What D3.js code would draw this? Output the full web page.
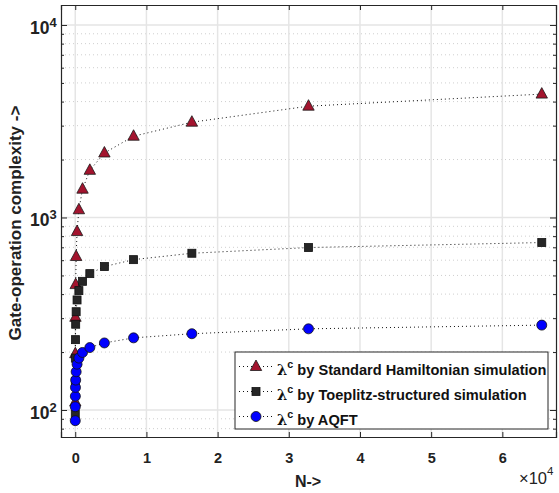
<!DOCTYPE html>
<html>
<head>
<meta charset="utf-8">
<script src="https://cdn.jsdelivr.net/npm/d3@7/dist/d3.min.js"></script>
<style>
  html, body { margin: 0; padding: 0; background: #fff; }
  svg { display: block; font-family: "Liberation Sans", Arial, Helvetica, sans-serif; }
</style>
</head>
<body>
<svg id="chart" width="559" height="493"></svg>
<script>
// Problem size N (powers of two)
const sizes = [4, 8, 16, 32, 64, 128, 256, 512, 1024, 2048, 4096, 8192, 16384, 32768, 65536];

// Gate-operation complexity for each method
const hamiltonianN = [8, 16, 32, 64, 128, 256, 512, 1024, 2048, 4096, 8192, 16384, 32768, 65536];
const hamiltonian = [110, 196, 303, 448, 627, 845, 1097, 1403, 1758, 2163, 2643, 3126, 3786, 4375];
const toeplitz = [95, 141, 186, 232, 279, 324, 373, 417, 466, 511, 556, 604, 652, 698, 741];
const aqft = [88, 104, 118, 131, 143, 158, 173, 186, 199, 211, 223, 237, 249, 264, 276];

const xTicks = [0, 10000, 20000, 30000, 40000, 50000, 60000];
const xTickLabels = ["0", "1", "2", "3", "4", "5", "6"];
const yMajor = [100, 1000, 10000];
const yMajorExp = ["2", "3", "4"];

const svg = d3.select("#chart");
const plotLeft = 61, plotRight = 556, plotTop = 5, plotBottom = 437;

const x = d3.scaleLinear().domain([-2000, 67536]).range([plotLeft, plotRight]);
const y = d3.scaleLog().domain([72.4, 12700]).range([plotBottom, plotTop]);

const axisColor = "#262626";
const textColor = "#222";

// minor log gridlines
const yMinor = [];
for (let e = 1; e <= 4; e++) {
  for (let m = 2; m <= 9; m++) {
    const v = m * Math.pow(10, e);
    if (v >= y.domain()[0] && v <= y.domain()[1]) yMinor.push(v);
  }
}

const grid = svg.append("g");
grid.selectAll(".ymin").data(yMinor).join("line")
  .attr("x1", plotLeft).attr("x2", plotRight)
  .attr("y1", d => y(d)).attr("y2", d => y(d))
  .attr("stroke", "#cfcfcf").attr("stroke-width", 1)
  .attr("stroke-dasharray", "1,3");
grid.selectAll(".ymaj").data(yMajor).join("line")
  .attr("x1", plotLeft).attr("x2", plotRight)
  .attr("y1", d => y(d)).attr("y2", d => y(d))
  .attr("stroke", "#e5e5e5").attr("stroke-width", 1.5);
grid.selectAll(".xmaj").data(xTicks).join("line")
  .attr("x1", d => x(d)).attr("x2", d => x(d))
  .attr("y1", plotTop).attr("y2", plotBottom)
  .attr("stroke", "#e5e5e5").attr("stroke-width", 1.5);

// axes (ticks pointing inward, box on all four sides)
const gB = svg.append("g").attr("transform", `translate(0,${plotBottom})`)
  .call(d3.axisBottom(x).tickValues(xTicks).tickSize(-5).tickFormat((d, i) => xTickLabels[i]).tickPadding(15.5));
const gT = svg.append("g").attr("transform", `translate(0,${plotTop})`)
  .call(d3.axisTop(x).tickValues(xTicks).tickSize(-5).tickFormat(""));
const gL = svg.append("g").attr("transform", `translate(${plotLeft},0)`)
  .call(d3.axisLeft(y).tickValues(yMajor).tickSize(-6).tickFormat(""));
const gR = svg.append("g").attr("transform", `translate(${plotRight},0)`)
  .call(d3.axisRight(y).tickValues(yMajor).tickSize(-6).tickFormat(""));
const gLm = svg.append("g").attr("transform", `translate(${plotLeft},0)`)
  .call(d3.axisLeft(y).tickValues(yMinor).tickSize(-3).tickFormat(""));
const gRm = svg.append("g").attr("transform", `translate(${plotRight},0)`)
  .call(d3.axisRight(y).tickValues(yMinor).tickSize(-3).tickFormat(""));

[gB, gT, gL, gR, gLm, gRm].forEach(g => {
  g.selectAll("path").attr("stroke", axisColor).attr("stroke-width", 1.2);
  g.selectAll("line").attr("stroke", axisColor).attr("stroke-width", 1);
});
[gLm, gRm].forEach(g => g.select("path").remove());
gB.selectAll("text").attr("fill", textColor).attr("font-size", 14.5).attr("font-weight", "bold")
  .attr("font-family", "Liberation Sans, Arial, sans-serif");

// y tick labels 10^k
const yl = svg.append("g");
yMajor.forEach((v, i) => {
  yl.append("text").attr("x", 49.5).attr("y", y(v) + 9)
    .attr("text-anchor", "end").attr("font-size", 17.5).attr("font-weight", "bold").attr("fill", textColor)
    .text("10");
  yl.append("text").attr("x", 49.5).attr("y", y(v) + 1.6)
    .attr("font-size", 13).attr("font-weight", "bold").attr("fill", textColor)
    .text(yMajorExp[i]);
});

// axis titles
svg.append("text").attr("transform", `translate(20.5,223) rotate(-90)`)
  .attr("text-anchor", "middle").attr("font-size", 17).attr("font-weight", "bold").attr("fill", textColor)
  .text("Gate-operation complexity ->");
svg.append("text").attr("x", 308).attr("y", 487)
  .attr("text-anchor", "middle").attr("font-size", 16).attr("font-weight", "bold").attr("fill", textColor)
  .text("N->");
const xm = svg.append("text").attr("x", 519).attr("y", 484).attr("font-size", 16.5).attr("fill", textColor);
xm.append("tspan").text("\u00d710");
xm.append("tspan").attr("dy", -9).attr("font-size", 11.5).text("4");

// series
const series = [
  { name: "Standard Hamiltonian simulation", n: hamiltonianN, v: hamiltonian, shape: "triangle", fill: "#a3142e" },
  { name: "Toeplitz-structured simulation", n: sizes, v: toeplitz, shape: "square", fill: "#262626" },
  { name: "AQFT", n: sizes, v: aqft, shape: "circle", fill: "#0000ff" }
];

function drawMarker(g, shape, fill) {
  if (shape === "triangle") {
    g.append("path").attr("d", "M0,-6.5L5.7,4L-5.7,4Z").attr("fill", fill).attr("stroke", "#1a1a1a").attr("stroke-width", 0.8);
  } else if (shape === "square") {
    g.append("rect").attr("x", -4).attr("y", -4).attr("width", 8).attr("height", 8)
      .attr("fill", fill).attr("stroke", "#111").attr("stroke-width", 0.8);
  } else {
    g.append("circle").attr("r", 5).attr("fill", fill).attr("stroke", "#111").attr("stroke-width", 0.8);
  }
}

const line = d3.line().x(d => x(d[0])).y(d => y(d[1]));
series.forEach(s => {
  const pts = s.n.map((n, i) => [n, s.v[i]]);
  svg.append("path").datum(pts).attr("d", line)
    .attr("fill", "none").attr("stroke", "#111").attr("stroke-width", 1).attr("stroke-dasharray", "1,3");
});
series.forEach(s => {
  const pts = s.n.map((n, i) => [n, s.v[i]]);
  pts.forEach(p => {
    const g = svg.append("g").attr("transform", `translate(${x(p[0])},${y(p[1])})`);
    drawMarker(g, s.shape, s.fill);
  });
});

// legend
const lg = svg.append("g");
lg.append("rect").attr("x", 235).attr("y", 352).attr("width", 313).attr("height", 77)
  .attr("fill", "#fff").attr("stroke", "#262626").attr("stroke-width", 1);
series.forEach((s, i) => {
  const cy = 366.5 + i * 25;
  lg.append("line").attr("x1", 239).attr("x2", 274).attr("y1", cy).attr("y2", cy)
    .attr("stroke", "#111").attr("stroke-width", 1).attr("stroke-dasharray", "1,3");
  const g = lg.append("g").attr("transform", `translate(256,${cy})`);
  drawMarker(g, s.shape, s.fill);
  const t = lg.append("text").attr("transform", `translate(277,${cy + 8}) scale(0.975,1)`)
    .attr("font-size", 15).attr("font-weight", "bold").attr("fill", "#111");
  t.append("tspan").attr("font-family", "DejaVu Serif, serif").text("\u03bb");
  t.append("tspan").attr("dy", -7).attr("font-size", 11).text("c");
  t.append("tspan").attr("dy", 7).text(" by " + s.name);
});
</script>
</body>
</html>
